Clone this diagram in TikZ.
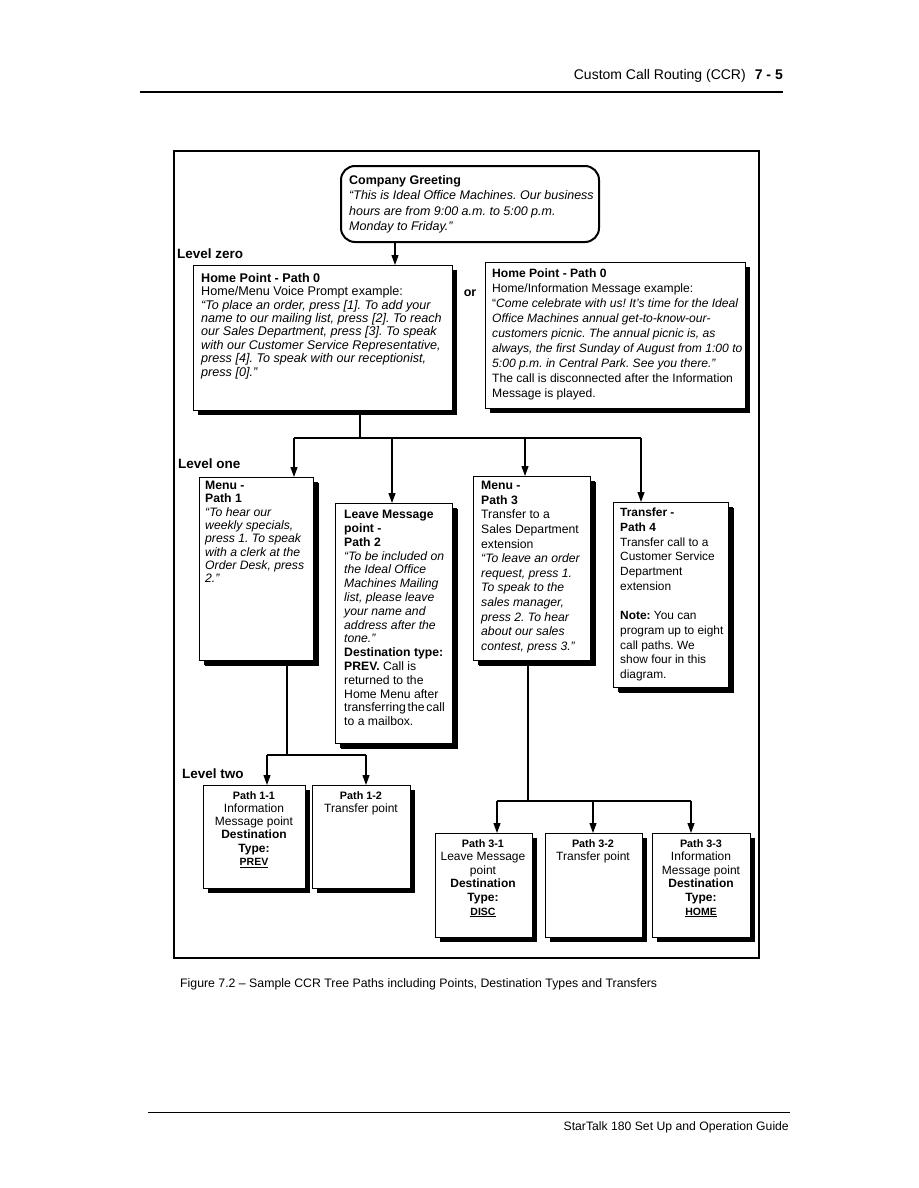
\documentclass[tikz,border=0pt]{standalone}
\usepackage{fontspec}
\setmainfont{Liberation Sans}
\usetikzlibrary{arrows.meta,shadows}
\frenchspacing
\newcommand\fs[2]{\fontsize{#1}{#2}\selectfont}
\newcommand\dtyp[1]{{\fs{10.5}{12}\bfseries\underline{#1}}}
\tikzset{
 pbox/.style={draw, line width=1.2pt, fill=white, anchor=north west, inner sep=0pt,
   drop shadow={shadow xshift=4pt, shadow yshift=-4pt, opacity=1, fill=black}},
 txt/.style={anchor=north west, inner sep=0pt, align=left},
 ctxt/.style={anchor=north, inner sep=0pt, align=center},
 conn/.style={line width=1.2pt},
 arr/.style={line width=1.2pt, -{Triangle[length=10pt,width=7pt]}},
 lvl/.style={anchor=west, inner sep=0pt, font=\fs{13.5}{16}\bfseries},
}
\begin{document}
\begin{tikzpicture}[x=1pt,y=-1pt]
\useasboundingbox (0,0) rectangle (918,1188);
% header
\coordinate (hl1) at (140,92); \coordinate (hl2) at (783,92);
\draw[line width=1.8pt] (hl1) -- (hl2);
\node[anchor=base east, inner sep=0pt, font=\fs{14}{16}] (hdr) at (783,80) {Custom Call Routing (CCR)\hspace{9pt}\textbf{7 - 5}};
% frame
\draw[line width=1.3pt] (174,151) rectangle (759,958);
% greeting
\node[draw, line width=2pt, rounded corners=14pt, anchor=north west, minimum width=258pt, minimum height=76pt, inner sep=0pt] (g) at (340,165) {};
\node[txt, font=\fs{12.5}{15.4}] (gt) at (349,175) {\textbf{Company Greeting}\\
\textit{“This is Ideal Office Machines. Our business}\\
\textit{hours are from 9:00 a.m. to 5:00 p.m.}\\
\textit{Monday to Friday.”}};
\node[lvl] (l0) at (177,254) {Level zero};
% home left
\node[pbox, minimum width=259pt, minimum height=145pt] (h0) at (193,265) {};
\node[txt, font=\fs{12.6}{13.4}] (h0t) at (201,273) {\textbf{Home Point - Path 0}\\
Home/Menu Voice Prompt example:\\
\textit{“To place an order, press [1]. To add your}\\
\textit{name to our mailing list, press [2]. To reach}\\
\textit{our Sales Department, press [3]. To speak}\\
\textit{with our Customer Service Representative,}\\
\textit{press [4]. To speak with our receptionist,}\\
\textit{press [0].”}};
\node[anchor=center, inner sep=0pt, font=\fs{12.5}{14}\bfseries] (or) at (470,293) {or};
% home right
\node[pbox, minimum width=260pt, minimum height=146pt] (h1) at (485,262) {};
\node[txt, font=\fs{12.1}{15}] (h1t) at (492,269) {\textbf{Home Point - Path 0}\\
Home/Information Message example:\\
“\textit{Come celebrate with us! It's time for the Ideal}\\
\textit{Office Machines annual get-to-know-our-}\\
\textit{customers picnic. The annual picnic is, as}\\
\textit{always, the first Sunday of August from 1:00 to}\\
\textit{5:00 p.m. in Central Park. See you there.”}\\
The call is disconnected after the Information\\
Message is played.};
% level one
\node[lvl] (l1) at (178,464) {Level one};
\node[pbox, minimum width=114pt, minimum height=183pt, drop shadow={shadow xshift=5pt, shadow yshift=-5pt, opacity=1, fill=black}] (m1) at (199,477) {};
\node[txt, font=\fs{12.2}{13.3}] (m1t) at (205,481) {\textbf{Menu -}\\ \textbf{Path 1}\\
\textit{“To hear our}\\ \textit{weekly specials,}\\ \textit{press 1. To speak}\\
\textit{with a clerk at the}\\ \textit{Order Desk, press}\\ \textit{2.”}};
\node[pbox, minimum width=117pt, minimum height=240pt, drop shadow={shadow xshift=5pt, shadow yshift=-5pt, opacity=1, fill=black}] (lm) at (335,503) {};
\node[txt, font=\fs{12.2}{13.8}] (lmt) at (344,510) {\textbf{Leave Message}\\ \textbf{point -}\\ \textbf{Path 2}\\
\textit{“To be included on}\\ \textit{the Ideal Office}\\ \textit{Machines Mailing}\\
\textit{list, please leave}\\ \textit{your name and}\\ \textit{address after the}\\ \textit{tone.”}\\
\textbf{Destination type:}\\ \textbf{PREV.} Call is\\ returned to the\\ Home Menu after\\
{\spaceskip=1.8pt plus 1pt transferring the call}\\ to a mailbox.};
\node[pbox, minimum width=117pt, minimum height=184pt, drop shadow={shadow xshift=5pt, shadow yshift=-5pt, opacity=1, fill=black}] (m3) at (473,476) {};
\node[txt, font=\fs{12.2}{14.6}] (m3t) at (481,481) {\textbf{Menu -}\\ \textbf{Path 3}\\
Transfer to a\\ Sales Department\\ extension\\
\textit{“To leave an order}\\ \textit{request, press 1.}\\ \textit{To speak to the}\\
\textit{sales manager,}\\ \textit{press 2. To hear}\\ \textit{about our sales}\\ \textit{contest, press 3.”}};
\node[pbox, minimum width=115pt, minimum height=185pt, drop shadow={shadow xshift=5pt, shadow yshift=-5pt, opacity=1, fill=black}] (t4) at (613,502) {};
\node[txt, font=\fs{11.9}{14.7}] (t4t) at (620,508) {\textbf{Transfer -}\\ \textbf{Path 4}\\
Transfer call to a\\ Customer Service\\ Department\\ extension\\[14.7pt]
\textbf{Note:} You can\\ program up to eight\\ call paths. We\\ show four in this\\ diagram.};
% level two
\node[lvl] (l2) at (182,774) {Level two};
\node[pbox, minimum width=102pt, minimum height=103pt] (p11) at (203,785) {};
\node[ctxt, font=\fs{12}{13.3}] (p11t) at (254,791) {{\fs{10.8}{12.6}\bfseries Path 1-1}\\ Information\\ Message point\\
\textbf{Destination}\\ \textbf{Type:}\\ \dtyp{PREV}};
\node[pbox, minimum width=98pt, minimum height=103pt] (p12) at (312,785) {};
\node[ctxt, font=\fs{12}{13.8}] (p12t) at (361,791) {{\fs{10.8}{12.6}\bfseries Path 1-2}\\ Transfer point};
\node[pbox, minimum width=97pt, minimum height=104pt] (p31) at (435,833) {};
\node[ctxt, font=\fs{12}{13.6}] (p31t) at (483,839) {{\fs{10.8}{12.6}\bfseries Path 3-1}\\ Leave Message\\ point\\
\textbf{Destination}\\ \textbf{Type:}\\ \dtyp{DISC}};
\node[pbox, minimum width=97pt, minimum height=104pt] (p32) at (545,833) {};
\node[ctxt, font=\fs{12}{13.6}] (p32t) at (593,839) {{\fs{10.8}{12.6}\bfseries Path 3-2}\\ Transfer point};
\node[pbox, minimum width=98pt, minimum height=104pt] (p33) at (652,833) {};
\node[ctxt, font=\fs{12}{13.6}] (p33t) at (701,839) {{\fs{10.8}{12.6}\bfseries Path 3-3}\\ Information\\ Message point\\
\textbf{Destination}\\ \textbf{Type:}\\ \dtyp{HOME}};
% connectors
\coordinate (xa) at (395,0);
\draw[arr] (g.south -| xa) -- (h0.north -| xa);
\coordinate (j0) at (360,438);
\coordinate (jL) at (294,438); \coordinate (j2) at (392,438);
\coordinate (j3) at (525,438); \coordinate (jR) at (641,438);
\draw[conn] (h0.south -| j0) -- (j0);
\draw[conn] (jL) -- (jR);
\draw[arr] (jL) -- (m1.north -| jL);
\draw[arr] (j2) -- (lm.north -| j2);
\draw[arr] (j3) -- (m3.north -| j3);
\draw[arr] (jR) -- (t4.north -| jR);
\coordinate (k0) at (287,755); \coordinate (k1) at (267,755); \coordinate (k2) at (366,755);
\draw[conn] (m1.south -| k0) -- (k0);
\draw[conn] (k1) -- (k2);
\draw[arr] (k1) -- (p11.north -| k1);
\draw[arr] (k2) -- (p12.north -| k2);
\coordinate (q0) at (528,801); \coordinate (q1) at (497,801);
\coordinate (q2) at (593,801); \coordinate (q3) at (691,801);
\draw[conn] (m3.south -| q0) -- (q0);
\draw[conn] (q1) -- (q3);
\draw[arr] (q1) -- (p31.north -| q1);
\draw[arr] (q2) -- (p32.north -| q2);
\draw[arr] (q3) -- (p33.north -| q3);
% caption and footer
\node[anchor=west, inner sep=0pt, font=\fs{12.3}{14}] (cap) at (180,984) {Figure 7.2 – Sample CCR Tree Paths including Points, Destination Types and Transfers};
\coordinate (fl1) at (148,1112); \coordinate (fl2) at (790,1112);
\draw[line width=0.9pt] (fl1) -- (fl2);
\node[anchor=base east, inner sep=0pt, font=\fs{12.2}{14}] (ftr) at (789,1130) {StarTalk 180 Set Up and Operation Guide};
\end{tikzpicture}
\end{document}
